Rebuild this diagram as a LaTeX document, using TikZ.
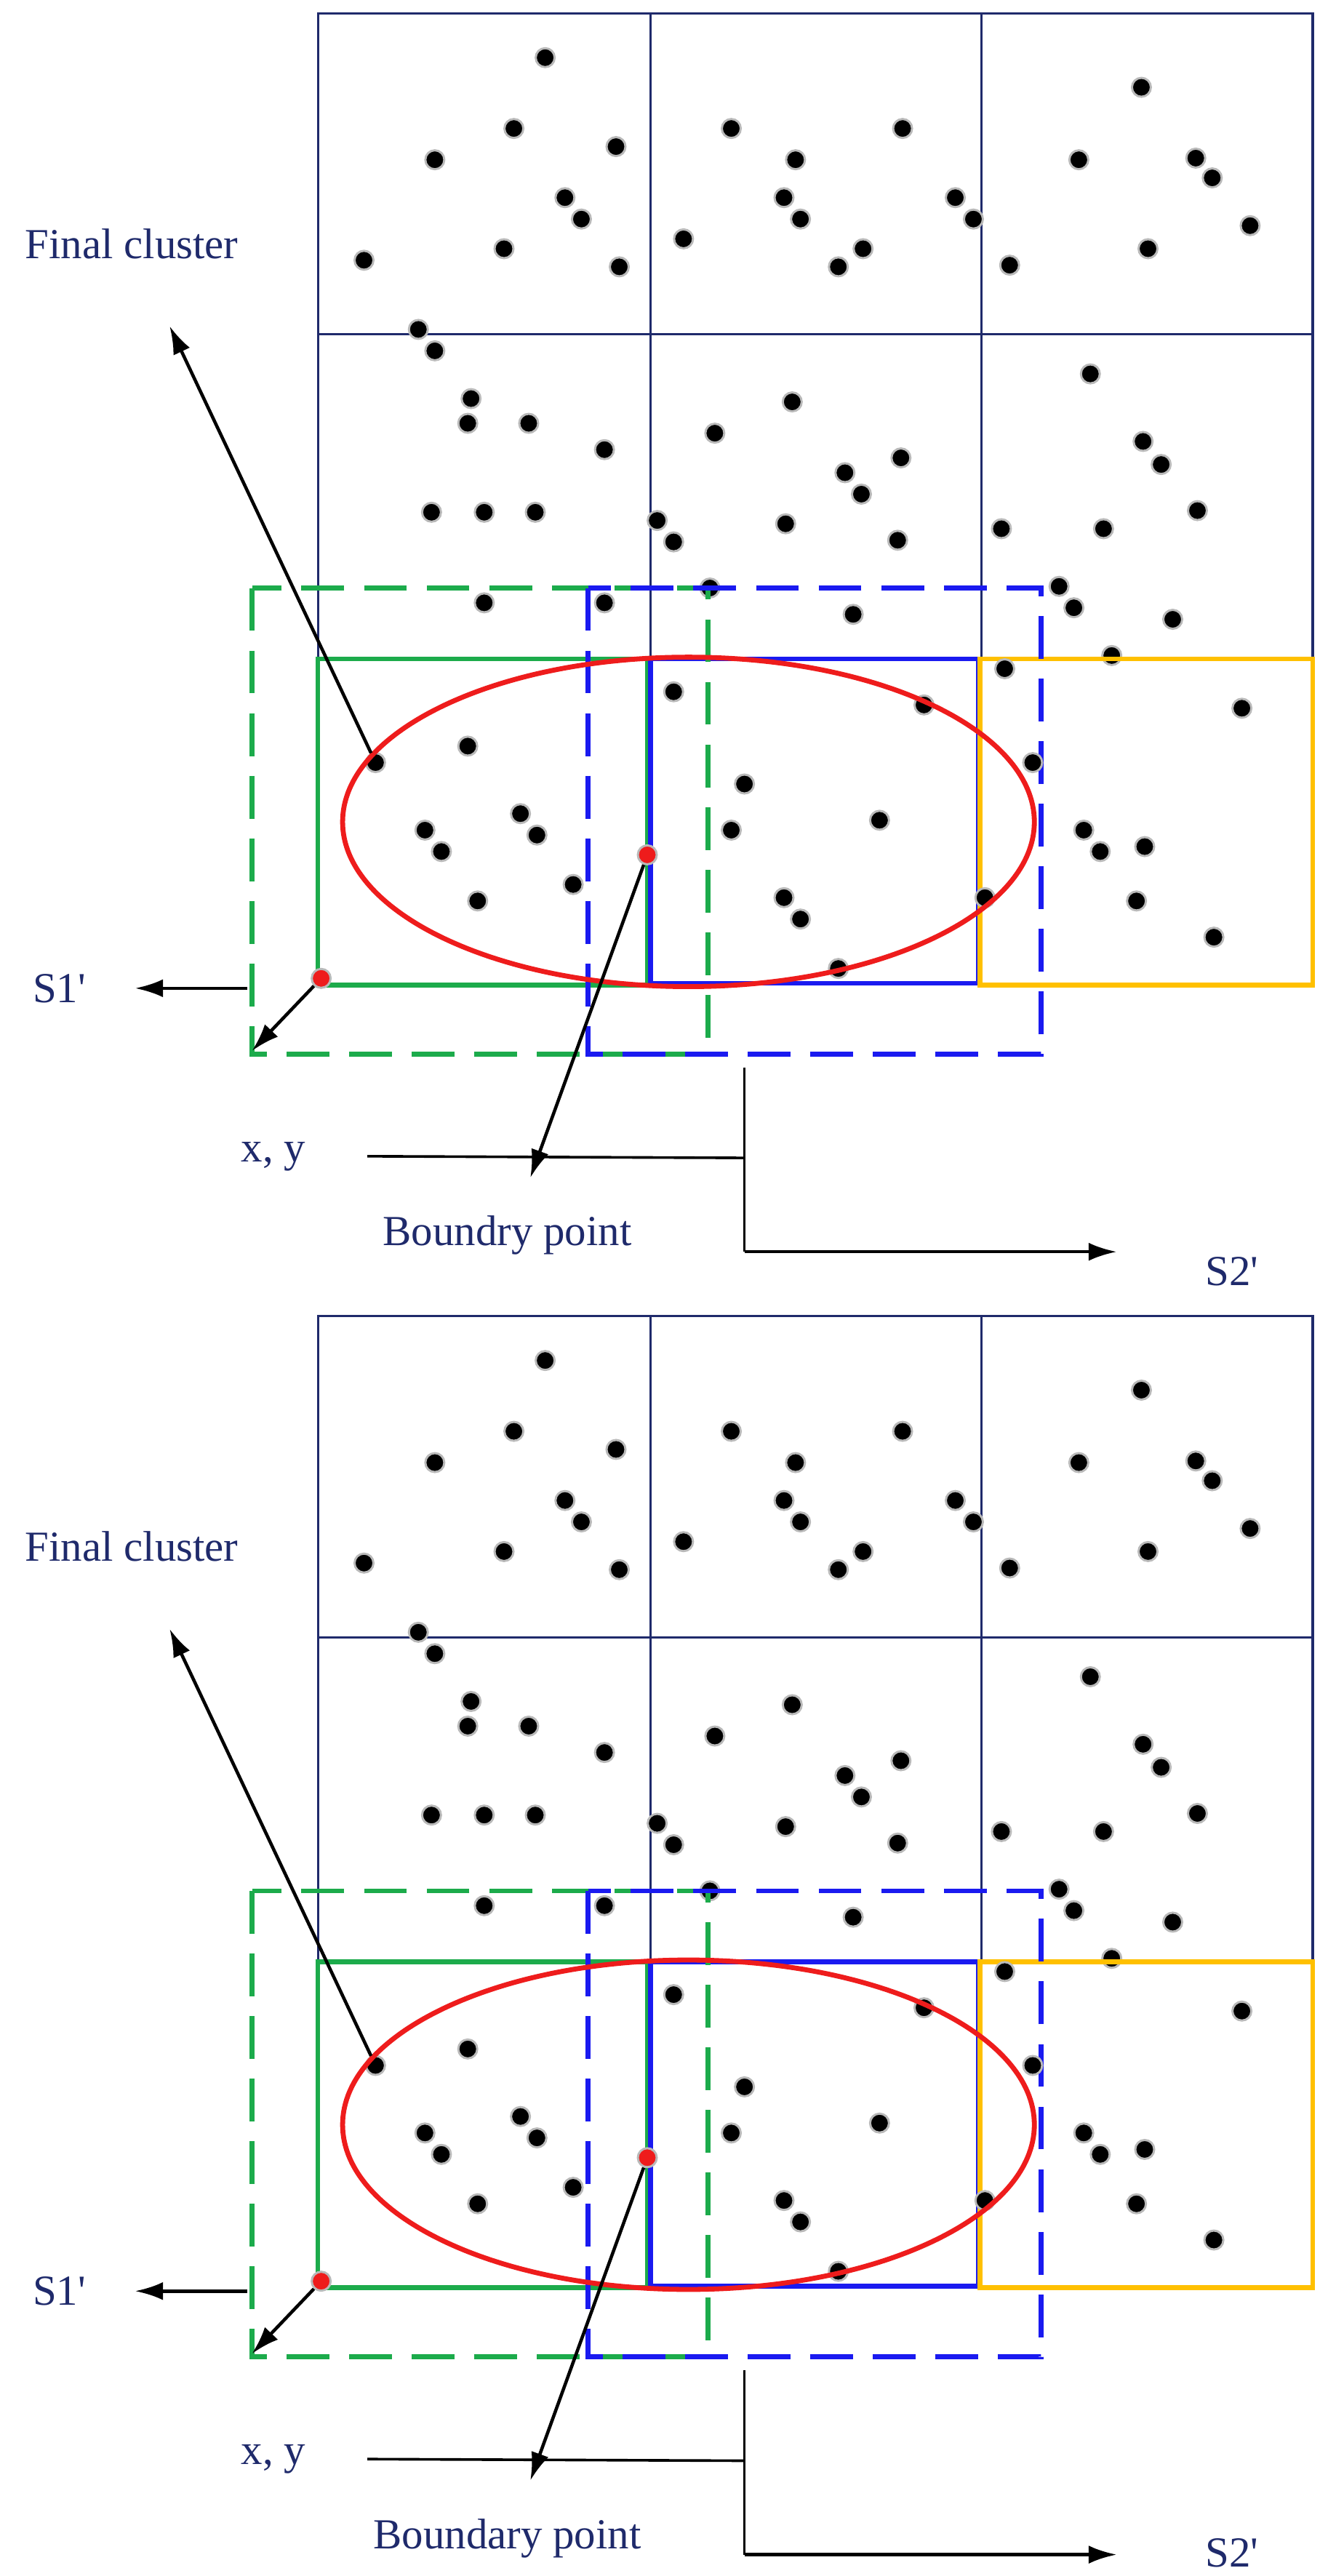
\documentclass[tikz,border=0pt]{standalone}
\usepackage{fontspec}
\setmainfont{Liberation Serif}
\usetikzlibrary{arrows.meta}
\definecolor{navy}{HTML}{1F2A6B}
\definecolor{cgreen}{HTML}{1CAB4B}
\definecolor{cblue}{HTML}{1A1AF0}
\definecolor{corange}{HTML}{FFC000}
\definecolor{cred}{HTML}{EE1C1C}
\begin{document}
\begin{tikzpicture}[x=1pt,y=-1pt,
  dot/.style={circle,fill=black,draw=gray!55,line width=1.3pt,minimum size=11.5pt,inner sep=0pt},
  rdot/.style={circle,fill=cred,draw=gray!55,line width=1.3pt,minimum size=11.5pt,inner sep=0pt},
  grid/.style={draw=navy,line width=1.4pt},
  lbl/.style={text=navy,font=\fontsize{26}{30}\selectfont,inner sep=0pt},
  arr/.style={-{Latex[length=17pt,width=11pt]},line width=2pt,black},
  ln/.style={line width=1.6pt,black}]
\useasboundingbox (0,0) rectangle (806,1564);
\foreach \k/\oy/\lab/\sy in {a/0/Boundry point/772,b/791/Boundary point/759}{
\begin{scope}[yshift=-\oy pt]
 \draw[grid] (193,8) rectangle (797,400);
 \draw[grid] (193,203) -- (797,203);
 \draw[grid] (395,8) -- (395,400);
 \draw[grid] (596,8) -- (596,400);
 \foreach \p in {(331,35),(312,78),(264,97),(374,89),(343,120),(353,133),(306,151),(376,162),(221,158),(444,78),(548,78),(483,97),(476,120),(486,133),(580,120),(591,133),(524,151),(509,162),(415,145),(693,53),(655,97),(726,96),(736,108),(759,137),(697,151),(613,161),
 (254,200),(264,213),(286,242),(284,257),(321,257),(367,273),(262,311),(294,311),(325,311),(399,316),(409,329),(294,366),(367,366),(431,357),(481,244),(434,263),(513,287),(547,278),(523,300),(477,318),(545,328),(518,373),(662,227),(694,268),(705,282),(670,321),(727,310),(608,321),(643,356),(652,369),(712,376),(675,398)}
   \node[dot] at \p {};
 \draw[cgreen,line width=3pt] (193,400) rectangle (393,598);
 \draw[cblue,line width=3pt] (395,400) rectangle (594,597);
 \draw[corange,line width=3pt] (595,400) rectangle (797,598);
 \draw[cgreen,line width=3pt,dash pattern=on 26pt off 12pt] (153,357) rectangle (430,640);
 \draw[cblue,line width=3pt,dash pattern=on 26pt off 12pt] (357,357) rectangle (632,640);
 \foreach \p in {(284,453),(258,504),(268,517),(316,494),(326,507),(290,547),(348,537),(409,420),(452,476),(444,504),(534,498),(561,428),(476,545),(486,558),(509,588),(610,406),(627,463),(598,545),(658,504),(668,517),(695,514),(690,547),(754,430),(737,569)}
   \node[dot] at \p {};
 \node[dot] (fc\k) at (228,463) {};
 \draw[cred,line width=3pt] (418,499) ellipse [x radius=210,y radius=100];
 \node[rdot] (bp\k) at (393,519) {};
 \node[rdot] (cr\k) at (195,594) {};
 \node[lbl] (tfc\k) at (80,148) {Final cluster};
 \coordinate (fce\k) at (103,198);
 \draw[arr] (fc\k) -- (fce\k);
 \node[lbl] (ts1\k) at (36,600) {S1\textquotesingle};
 \coordinate (s1a\k) at (150,600);
 \coordinate (s1b\k) at (82,600);
 \draw[arr] (s1a\k) -- (s1b\k);
 \coordinate (crb\k) at (153,638);
 \draw[arr] (cr\k) -- (crb\k);
 \coordinate (bpe\k) at (322,715);
 \draw[arr] (bp\k) -- (bpe\k);
 \node[lbl] (tbp\k) at (308,750) {\lab};
 \node[lbl] (txy\k) at (166,702) {x, y};
 \coordinate (xya\k) at (223,702);
 \coordinate (xyb\k) at (452,703);
 \draw[ln] (xya\k) -- (xyb\k);
 \coordinate (va\k) at (452,648);
 \coordinate (vb\k) at (452,760);
 \coordinate (vc\k) at (678,760);
 \draw[ln] (va\k) -- (vb\k);
 \draw[arr] (vb\k) -- (vc\k);
 \node[lbl] (ts2\k) at (748,\sy) {S2\textquotesingle};
\end{scope}}
\end{tikzpicture}
\end{document}
